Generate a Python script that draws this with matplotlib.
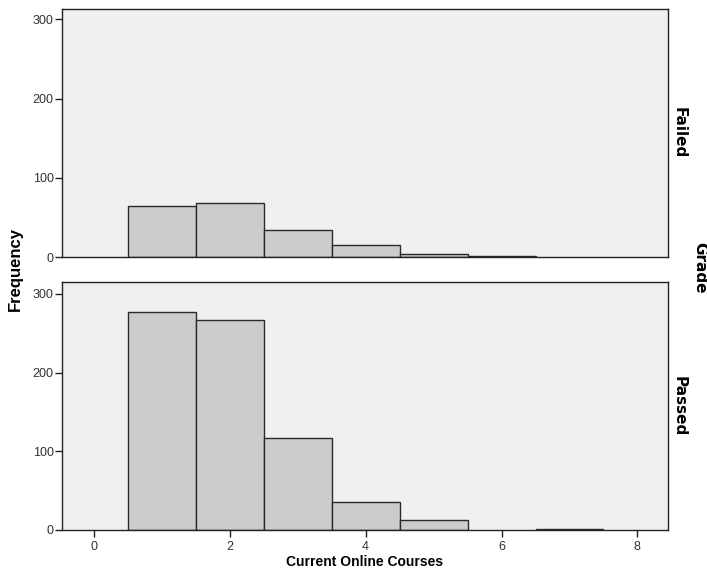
import matplotlib
matplotlib.use("Agg")
import matplotlib.pyplot as plt
import numpy as np

plt.rcParams['font.family'] = ['Liberation Sans', 'DejaVu Sans']

# Data
bin_centers = [1, 2, 3, 4, 5, 6, 7]
failed_counts = [64, 68, 34, 15, 4, 1, 0]
passed_counts = [277, 267, 117, 36, 13, 0, 1]
panel_labels = ["Failed", "Passed"]
y_ticks = [0, 100, 200, 300]
x_ticks = [0, 2, 4, 6, 8]

fig = plt.figure(figsize=(7.07, 5.81), dpi=100)
left = 62 / 707
width = (668 - 62) / 707
h = 248 / 581
ax_top = fig.add_axes([left, 1 - 257 / 581, width, h])
ax_bot = fig.add_axes([left, 1 - 530 / 581, width, h])

for ax, counts, lab, ymax in [(ax_top, failed_counts, panel_labels[0], 313),
                              (ax_bot, passed_counts, panel_labels[1], 315)]:
    ax.set_facecolor('#F0F0F0')
    xs = [c for c, v in zip(bin_centers, counts) if v > 0]
    vs = [v for v in counts if v > 0]
    ax.bar(xs, vs, width=1.0, color='#CCCCCC',
           edgecolor='#2a2a2a', linewidth=1.0, zorder=2)
    ax.set_xlim(-0.47, 8.45)
    ax.set_ylim(0, ymax)
    ax.set_yticks(y_ticks)
    ax.tick_params(axis='y', direction='out', length=5, width=1,
                   colors='#222222', labelsize=9, pad=1)
    ax.tick_params(axis='y', labelcolor='#333333')
    for s in ax.spines.values():
        s.set_color('#222222')
        s.set_linewidth(1.0)
    ax.text(1.006, 0.5, lab, transform=ax.transAxes, rotation=-90,
            ha='left', va='center', fontsize=11, fontweight='bold',
            family='DejaVu Sans')

ax_top.set_xticks([])
ax_bot.set_xticks(x_ticks)
ax_bot.tick_params(axis='x', direction='out', length=5, width=1,
                   colors='#222222', labelcolor='#333333', labelsize=9, pad=3)
ax_bot.set_xlabel("Current Online Courses", fontsize=10, fontweight='bold',
                  labelpad=1)

fig.text(15 / 707, 1 - 269 / 581, "Frequency", rotation=90, ha='center',
         va='center', fontsize=12, fontweight='bold')
fig.text(692 / 707, 1 - 268 / 581, "Grade", rotation=-90, ha='left',
         va='center', fontsize=11, fontweight='bold', family='DejaVu Sans')

fig.savefig("out.png", dpi=100)
